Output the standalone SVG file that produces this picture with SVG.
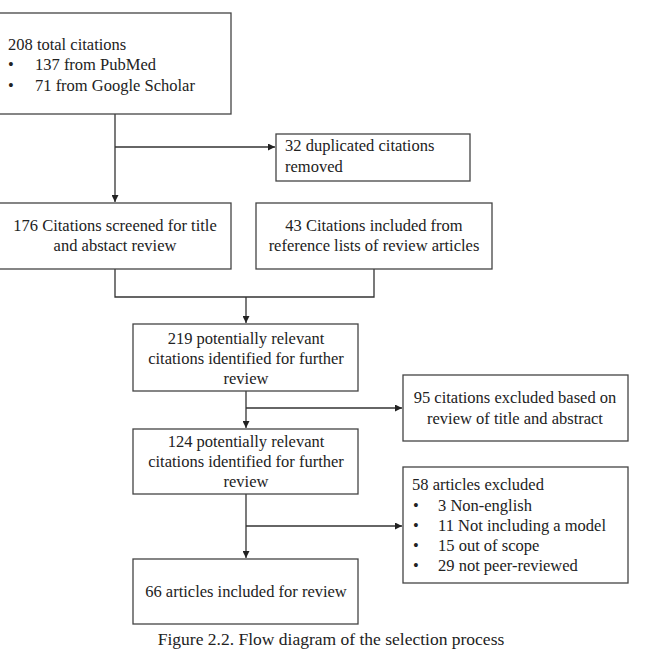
<svg xmlns="http://www.w3.org/2000/svg" width="663" height="652" viewBox="0 0 663 652">
<style>
.box{fill:#fff;stroke:#444;stroke-width:1.3}
.t{font-family:"Liberation Serif","Times New Roman",serif;font-size:16.5px;fill:#222}
.c{text-anchor:middle}
.ln{fill:none;stroke:#333;stroke-width:1.3}
</style>
<defs>
<marker id="ah" viewBox="0 0 10 10" refX="10" refY="5" markerWidth="7" markerHeight="7" markerUnits="userSpaceOnUse" orient="auto">
<path d="M0,0 L10,5 L0,10 z" fill="#222"/>
</marker>
</defs>
<rect width="663" height="652" fill="#fff"/>
<g id="connectors">
<path class="ln" d="M115,114 V202" marker-end="url(#ah)"/>
<path class="ln" d="M115,147 H275" marker-end="url(#ah)"/>
<path class="ln" d="M115,269 V297 H374 V269"/>
<path class="ln" d="M246,297 V323" marker-end="url(#ah)"/>
<path class="ln" d="M246,391 V428" marker-end="url(#ah)"/>
<path class="ln" d="M246,408 H402" marker-end="url(#ah)"/>
<path class="ln" d="M246,494 V558" marker-end="url(#ah)"/>
<path class="ln" d="M246,526 H402" marker-end="url(#ah)"/>
</g>
<g id="n1"><rect class="box" x="-1" y="13" width="232" height="101"/>
<text class="t" x="8" y="50">208 total citations</text>
<text class="t" x="8" y="70">•</text><text class="t" x="35" y="70">137 from PubMed</text>
<text class="t" x="8" y="91">•</text><text class="t" x="35" y="91">71 from Google Scholar</text></g>
<g id="n2"><rect class="box" x="276" y="134" width="194" height="47"/>
<text class="t" x="285" y="151">32 duplicated citations</text>
<text class="t" x="285" y="172">removed</text></g>
<g id="n3"><rect class="box" x="-1" y="203" width="232" height="66"/>
<text class="t c" x="115" y="231">176 Citations screened for title</text>
<text class="t c" x="115" y="251">and abstact review</text></g>
<g id="n4"><rect class="box" x="256" y="203" width="236" height="66"/>
<text class="t c" x="374" y="231">43 Citations included from</text>
<text class="t c" x="374" y="251">reference lists of review articles</text></g>
<g id="n5"><rect class="box" x="133" y="324" width="225" height="67"/>
<text class="t c" x="246" y="344">219 potentially relevant</text>
<text class="t c" x="246" y="364">citations identified for further</text>
<text class="t c" x="246" y="384">review</text></g>
<g id="n6"><rect class="box" x="403" y="375" width="225" height="66"/>
<text class="t c" x="515" y="403">95 citations excluded based on</text>
<text class="t c" x="515" y="424">review of title and abstract</text></g>
<g id="n7"><rect class="box" x="133" y="429" width="225" height="65"/>
<text class="t c" x="246" y="447">124 potentially relevant</text>
<text class="t c" x="246" y="467">citations identified for further</text>
<text class="t c" x="246" y="487">review</text></g>
<g id="n8"><rect class="box" x="403" y="467" width="225" height="116"/>
<text class="t" x="412" y="490">58 articles excluded</text>
<text class="t" x="413" y="511">•</text><text class="t" x="438" y="511">3 Non-english</text>
<text class="t" x="413" y="531">•</text><text class="t" x="438" y="531">11 Not including a model</text>
<text class="t" x="413" y="551">•</text><text class="t" x="438" y="551">15 out of scope</text>
<text class="t" x="413" y="571">•</text><text class="t" x="438" y="571">29 not peer-reviewed</text></g>
<g id="n9"><rect class="box" x="133" y="559" width="225" height="65"/>
<text class="t c" x="246" y="597">66 articles included for review</text></g>
<text class="t c" x="331" y="645" style="font-size:17.5px">Figure 2.2. Flow diagram of the selection process</text>
</svg>
